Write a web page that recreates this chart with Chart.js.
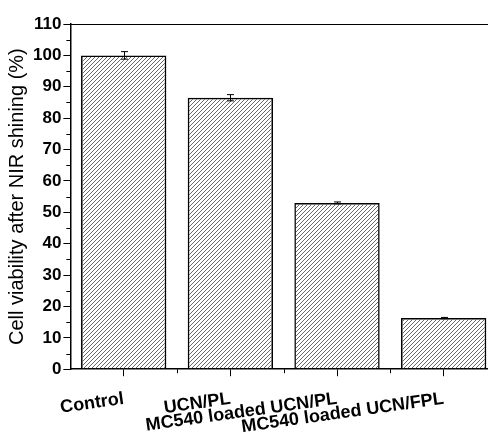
<!DOCTYPE html>
<html>
<head>
<meta charset="utf-8">
<script src="https://cdn.jsdelivr.net/npm/chart.js@4/dist/chart.umd.min.js"></script>
<style>
  html, body { margin: 0; padding: 0; background: #fff; overflow: hidden; }
  #wrap { width: 500px; height: 434px; position: relative; }
</style>
</head>
<body>
<div id="wrap"><canvas id="chart"></canvas></div>
<script>
const categories = ['Control', 'UCN/PL', 'MC540 loaded UCN/PL', 'MC540 loaded UCN/FPL'];
const viability = [100, 86.5, 53, 16.3];
const viabilityErr = [1.2, 1.0, 0.3, 0.2];
const yTicks = [0, 10, 20, 30, 40, 50, 60, 70, 80, 90, 100, 110];

function makeHatch() {
  const c = document.createElement('canvas');
  c.width = 4; c.height = 4;
  const g = c.getContext('2d');
  g.strokeStyle = '#444';
  g.lineWidth = 0.8;
  g.beginPath();
  g.moveTo(-1, 5); g.lineTo(5, -1);
  g.moveTo(-1, 1); g.lineTo(1, -1);
  g.moveTo(3, 5); g.lineTo(5, 3);
  g.stroke();
  return g.createPattern(c, 'repeat');
}

// minor ticks, top frame line and error bars
const extras = {
  id: 'extras',
  afterDatasetsDraw(chart) {
    const {ctx, chartArea, scales} = chart;
    const x = scales.x, y = scales.y;
    ctx.save();
    ctx.strokeStyle = '#000';
    ctx.lineWidth = 1;
    // top frame
    ctx.beginPath();
    ctx.moveTo(chartArea.left, chartArea.top + 0.5);
    ctx.lineTo(chartArea.right, chartArea.top + 0.5);
    ctx.stroke();
    // y minor ticks
    ctx.beginPath();
    for (let v = 5; v < 110; v += 10) {
      const py = Math.round(y.getPixelForValue(v)) + 0.5;
      ctx.moveTo(chartArea.left, py);
      ctx.lineTo(chartArea.left - 4, py);
    }
    // x minor ticks between categories
    for (let i = 0; i < categories.length - 1; i++) {
      const px = Math.round((x.getPixelForValue(i) + x.getPixelForValue(i + 1)) / 2) + 0.5;
      ctx.moveTo(px, chartArea.bottom);
      ctx.lineTo(px, chartArea.bottom + 4);
    }
    ctx.stroke();
    // error bars
    const meta = chart.getDatasetMeta(0);
    ctx.beginPath();
    meta.data.forEach((bar, i) => {
      const top = y.getPixelForValue(viability[i] + viabilityErr[i]);
      const bot = y.getPixelForValue(viability[i] - viabilityErr[i]);
      const bx = Math.round(bar.x) + 0.5;
      ctx.moveTo(bx, top); ctx.lineTo(bx, bot);
      ctx.moveTo(bx - 3.5, top); ctx.lineTo(bx + 3.5, top);
      ctx.moveTo(bx - 3.5, bot); ctx.lineTo(bx + 3.5, bot);
    });
    ctx.stroke();
    ctx.restore();
  }
};

new Chart(document.getElementById('chart'), {
  type: 'bar',
  data: {
    labels: categories,
    datasets: [{
      data: viability,
      backgroundColor: makeHatch(),
      borderColor: '#000',
      borderWidth: 1.5,
      barPercentage: 0.8,
      categoryPercentage: 1
    }]
  },
  options: {
    responsive: true,
    maintainAspectRatio: false,
    animation: false,
    layout: { padding: { left: 5, right: 3, top: 24, bottom: -16 } },
    plugins: { legend: { display: false }, tooltip: { enabled: false } },
    scales: {
      x: {
        grid: { drawOnChartArea: false, offset: false, tickLength: 7, tickColor: '#000' },
        border: { color: '#000', width: 1.5 },
        ticks: {
          color: '#000',
          font: { family: 'Liberation Sans, Arial, sans-serif', size: 18, weight: 'bold' },
          minRotation: 8, maxRotation: 8, autoSkip: false, padding: 12
        }
      },
      y: {
        min: 0, max: 110,
        afterBuildTicks(axis) { axis.ticks = yTicks.map(v => ({value: v})); },
        grid: { drawOnChartArea: false, tickLength: 7, tickColor: '#000' },
        border: { color: '#000', width: 1.5 },
        ticks: {
          color: '#000',
          font: { family: 'Liberation Sans, Arial, sans-serif', size: 17, weight: 'bold' },
          padding: 2
        },
        title: {
          display: true,
          text: 'Cell viability after NIR shining (%)',
          color: '#000',
          font: { family: 'Liberation Sans, Arial, sans-serif', size: 20 },
          padding: { top: 0, bottom: 2 }
        }
      }
    }
  },
  plugins: [extras]
});
</script>
</body>
</html>
